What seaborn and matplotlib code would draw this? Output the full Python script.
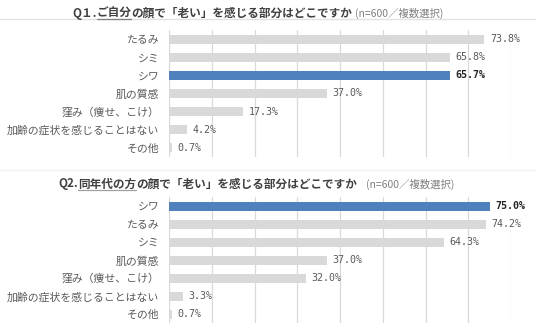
import matplotlib
matplotlib.use("Agg")
import matplotlib.pyplot as plt
from matplotlib.lines import Line2D
import seaborn as sns

# Q1: parts of one's own face where aging is felt
q1_categories = ["たるみ", "シミ", "シワ", "肌の質感", "窪み（痩せ、こけ）", "加齢の症状を感じることはない", "その他"]
q1_values = [73.8, 65.8, 65.7, 37.0, 17.3, 4.2, 0.7]
q1_highlight = "シワ"

# Q2: parts of peers' faces where aging is felt
q2_categories = ["シワ", "たるみ", "シミ", "肌の質感", "窪み（痩せ、こけ）", "加齢の症状を感じることはない", "その他"]
q2_values = [75.0, 74.2, 64.3, 37.0, 32.0, 3.3, 0.7]
q2_highlight = "シワ"

q1_title = ["Q１.", "ご自分", "の顔で「老い」を感じる部分はどこですか"]
q2_title = ["Q2.", "同年代の方", "の顔で「老い」を感じる部分はどこですか"]
note = "(n=600／複数選択)"

sns.set_theme(style="white")
plt.rcParams["font.family"] = ["Noto Sans CJK JP", "DejaVu Sans"]

W, H = 536, 336
fig = plt.figure(figsize=(W / 100, H / 100), dpi=100)
fig.patch.set_facecolor("white")

GRAY = "#d9d9d9"
BLUE = "#4f81bd"
LABEL = "#595959"


def bar_panel(ax, cats, vals, highlight):
    colors = [BLUE if c == highlight else GRAY for c in cats]
    sns.barplot(x=vals, y=cats, hue=cats, palette=colors, legend=False,
                orient="h", width=0.5, saturation=1, linewidth=0, ax=ax)
    ax.set_xlim(0, 80)
    ax.set_ylim(len(cats) - 0.5, -0.5)
    ax.set_xticks(range(0, 81, 10))
    ax.set_xticklabels([])
    ax.xaxis.grid(True, color=GRAY, linewidth=0.9)
    ax.yaxis.grid(False)
    ax.set_axisbelow(True)
    for s in ax.spines.values():
        s.set_visible(False)
    ax.set_xlabel("")
    ax.set_ylabel("")
    ax.tick_params(axis="y", length=0, pad=7, labelsize=7.8, labelcolor=LABEL)
    ax.tick_params(axis="x", length=0)
    for i, (c, v) in enumerate(zip(cats, vals)):
        hl = c == highlight
        ax.text(v + 1.3, i, f"{v:.1f}%", va="center", ha="left",
                family="DejaVu Sans Mono", fontsize=7.2,
                color="#262626" if hl else LABEL,
                fontweight="bold" if hl else "normal")


ax1 = fig.add_axes([169 / W, 1 - 157 / H, 342 / W, 127 / H])
bar_panel(ax1, q1_categories, q1_values, q1_highlight)
ax2 = fig.add_axes([169 / W, 1 - 323 / H, 342 / W, 126 / H])
bar_panel(ax2, q2_categories, q2_values, q2_highlight)

# Header rules
fig.add_artist(Line2D([0, 1], [1 - 18.5 / H] * 2, color="#e2e2e2", lw=1))
fig.add_artist(Line2D([0, 1], [1 - 169.5 / H] * 2, color="#f0f0f0", lw=1))

renderer = fig.canvas.get_renderer()


def title_line(x_px, base_px, parts, ul_color, note_gap):
    x = x_px
    for k, s in enumerate(parts):
        t = fig.text(x / W, 1 - base_px / H, s, fontsize=8.4, fontweight="bold",
                     color="#404040", va="baseline", ha="left")
        bb = t.get_window_extent(renderer)
        if k == 1:
            fig.add_artist(Line2D([bb.x0 / W, bb.x1 / W], [1 - (base_px + 2.5) / H] * 2,
                                  color=ul_color, lw=0.9))
        x = bb.x1
    fig.text((x + note_gap) / W, 1 - base_px / H, note, fontsize=7.5,
             color="#7f7f7f", va="baseline", ha="left")


title_line(72, 16.5, q1_title, "#7f7f7f", 3)
title_line(58, 187.5, q2_title, "#a0a0a0", 9)

fig.savefig("out.png", dpi=100)
